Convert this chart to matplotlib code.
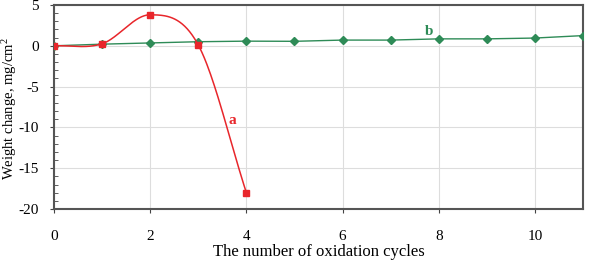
import matplotlib

matplotlib.use("Agg")
import numpy as np
from matplotlib import pyplot as plt
from matplotlib.ticker import MultipleLocator

cycles_a = [0, 1, 2, 3, 4]
weight_a = [0.0, 0.25, 3.8, 0.1, -18.0]

cycles_b = [0, 1, 2, 3, 4, 5, 6, 7, 8, 9, 10, 11]
weight_b = [0.0, 0.2, 0.35, 0.5, 0.57, 0.55, 0.7, 0.7, 0.85, 0.85, 0.95, 1.25]


def smooth(x, y, n=40):
    # catmull-rom, like excel's smoothed line
    x = np.asarray(x, float)
    y = np.asarray(y, float)
    px = np.concatenate([[2 * x[0] - x[1]], x, [2 * x[-1] - x[-2]]])
    py = np.concatenate([[2 * y[0] - y[1]], y, [2 * y[-1] - y[-2]]])
    xs, ys = [], []
    t = np.linspace(0, 1, n)
    for i in range(1, len(px) - 2):
        for p, out in ((px, xs), (py, ys)):
            p0, p1, p2, p3 = p[i - 1], p[i], p[i + 1], p[i + 2]
            out.extend(0.5 * (2 * p1 + (-p0 + p2) * t
                              + (2 * p0 - 5 * p1 + 4 * p2 - p3) * t ** 2
                              + (-p0 + 3 * p1 - 3 * p2 + p3) * t ** 3))
    return xs, ys


plt.rcParams["font.family"] = ["Liberation Serif", "DejaVu Serif"]
plt.rcParams["mathtext.fontset"] = "custom"
plt.rcParams["mathtext.rm"] = "Liberation Serif"
plt.rcParams["axes.unicode_minus"] = False

fig = plt.figure(figsize=(5.89, 2.63), dpi=100)
ax = fig.add_axes([54 / 589, 1 - 209 / 263, 529 / 589, 204 / 263])

red = "#e8262b"
green = "#2e8b57"

ax.plot(cycles_b, weight_b, color=green, lw=1.0, marker="D", ms=4, zorder=3)
sx, sy = smooth(cycles_a, weight_a)
ax.plot(sx, sy, color=red, lw=1.1, zorder=4)
ax.plot(cycles_a, weight_a, ls="none", color=red, marker="s", ms=5, zorder=5)

ax.text(3.7, -9.2, "a", color=red, fontsize=11, fontweight="bold", ha="center", va="center")
ax.text(7.8, 1.8, "b", color=green, fontsize=11, fontweight="bold", ha="center", va="center")

ax.set_xlim(0, 11)
ax.set_ylim(-20, 5)
ax.xaxis.set_major_locator(MultipleLocator(2))
ax.yaxis.set_major_locator(MultipleLocator(5))
ax.yaxis.set_minor_locator(MultipleLocator(1))
ax.tick_params(axis="both", which="major", direction="out", length=3, labelsize=11, color="#444444")
ax.tick_params(axis="y", which="minor", direction="in", length=3, color="#444444")
ax.tick_params(axis="x", pad=12)
ax.tick_params(axis="y", pad=8)
ax.grid(True, which="major", color="#dddddd", lw=0.8)
ax.set_axisbelow(True)
for s in ax.spines.values():
    s.set_color("#555555")
    s.set_linewidth(1.5)

ax.set_xlabel("The number of oxidation cycles", fontsize=12, labelpad=1)
ax.set_ylabel("Weight change, mg/cm$\\mathregular{^2}$", fontsize=10.5)
ax.yaxis.set_label_coords(-0.066, 0.49)

plt.savefig("out.png", dpi=100)
plt.close()
